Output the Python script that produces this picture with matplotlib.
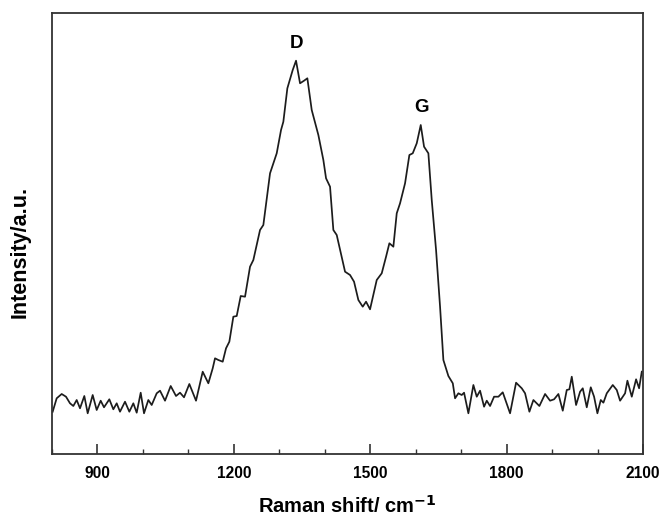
import matplotlib
matplotlib.use("Agg")
import matplotlib.pyplot as plt
from matplotlib.ticker import MultipleLocator, FixedLocator

plt.rcParams['font.family'] = ['Liberation Sans', 'DejaVu Sans']

# Raman shift (cm^-1) and intensity (a.u.)
shift = [801.5, 810.3, 821.3, 830.8, 839.6, 846.9, 854.3, 861.6, 871.1, 878.5,
         889.5, 898.3, 907.1, 914.4, 926.1, 934.9, 942.3, 949.6, 960.6, 970.1,
         978.9, 986.3, 995.1, 1002.4, 1011.9, 1019.3, 1030.3, 1037.6, 1048.6, 1061.1,
         1072.8, 1081.6, 1090.4, 1102.1, 1116.8, 1131.5, 1143.9, 1153.5, 1158.6, 1165.9,
         1175.5, 1182.8, 1190.1, 1198.9, 1206.3, 1215.1, 1224.6, 1235.6, 1242.9, 1257.6,
         1264.9, 1279.6, 1294.3, 1303.8, 1308.9, 1317.7, 1329.5, 1336.8, 1345.6, 1354.4,
         1361.7, 1371.3, 1385.9, 1396.9, 1402.8, 1411.6, 1418.9, 1426.3, 1444.6, 1455.6,
         1464.4, 1473.9, 1483.5, 1490.8, 1499.6, 1514.3, 1525.3, 1534.8, 1542.1, 1550.9,
         1558.3, 1565.6, 1576.6, 1586.1, 1593.5, 1602.3, 1611.1, 1618.4, 1627.9, 1635.3,
         1644.8, 1653.6, 1660.9, 1671.9, 1681.6, 1686.6, 1693.9, 1701.3, 1706.4, 1715.9,
         1726.9, 1734.3, 1741.6, 1750.4, 1756.3, 1763.6, 1772.4, 1781.9, 1791.5, 1798.8,
         1807.6, 1820.8, 1833.3, 1840.6, 1850.1, 1858.9, 1872.1, 1884.6, 1895.6, 1904.4,
         1913.9, 1923.5, 1932.3, 1938.1, 1943.3, 1952.8, 1961.6, 1967.5, 1976.3, 1985.1,
         1992.4, 1999.7, 2007.1, 2012.9, 2020.3, 2033.5, 2042.3, 2049.6, 2060.6, 2065.7,
         2075.3, 2084.8, 2091.4, 2097.3]
intensity = [42.3, 55.7, 60.0, 57.3, 50.7, 48.0, 54.0, 45.7, 58.0, 40.7,
             59.0, 44.0, 53.3, 46.7, 54.7, 44.7, 50.7, 42.3, 52.3, 42.3,
             50.7, 41.3, 61.3, 40.7, 54.0, 49.0, 60.7, 63.3, 53.3, 68.0,
             58.0, 61.3, 56.7, 70.0, 53.3, 82.3, 70.7, 85.7, 95.7, 94.0,
             92.3, 105.7, 112.3, 137.3, 138.0, 158.0, 157.3, 187.3, 194.0, 224.0,
             229.0, 280.7, 300.7, 324.0, 332.3, 365.7, 384.0, 393.3, 370.7, 373.3,
             375.7, 344.0, 319.0, 294.0, 275.7, 267.3, 224.0, 219.0, 182.3, 179.0,
             172.3, 154.0, 147.3, 152.3, 144.7, 174.0, 180.7, 197.3, 210.7, 207.3,
             240.7, 250.7, 270.7, 299.0, 300.7, 310.7, 329.0, 307.3, 300.7, 254.0,
             204.0, 147.3, 94.0, 78.0, 70.7, 55.7, 60.7, 59.0, 61.3, 40.7,
             69.0, 57.3, 63.3, 47.3, 53.3, 48.0, 57.3, 57.3, 61.7, 52.3,
             40.7, 71.3, 65.7, 60.7, 42.3, 54.0, 48.0, 60.0, 53.3, 54.7,
             60.0, 43.3, 64.0, 64.7, 77.3, 49.0, 62.3, 65.7, 46.7, 66.7,
             57.3, 40.7, 54.0, 51.3, 60.7, 69.0, 64.0, 53.3, 60.7, 73.3,
             57.3, 74.7, 65.7, 82.3]

peak_labels = ['D', 'G']
peak_pos = [1337, 1612]
peak_label_y = [410, 346]

major_ticks = [900, 1200, 1500, 1800, 2100]

fig = plt.figure(figsize=(6.63, 5.16), dpi=100)
ax = fig.add_axes([52/663, 62/516, 591/663, 441/516])
ax.plot(shift, intensity, color='#1c1c1c', lw=1.25, solid_joinstyle='round')
ax.set_xlim(800, 2100)
ax.set_ylim(0, 441)

ax.xaxis.set_major_locator(FixedLocator(major_ticks))
ax.xaxis.set_minor_locator(MultipleLocator(100))
ax.tick_params(axis='x', which='major', direction='in', length=7.2, width=1.2,
               color='#333333', pad=9, labelsize=11.2)
ax.tick_params(axis='x', which='minor', direction='in', length=3.6, width=1.0,
               color='#333333')
ax.set_yticks([])
for lab in ax.get_xticklabels():
    lab.set_fontweight('bold')
for sp in ax.spines.values():
    sp.set_color('#333333')
    sp.set_linewidth(1.3)

ax.set_xlabel('Raman shift/ cm$^{\\mathbf{-1}}$', fontsize=14.5, fontweight='bold', labelpad=10)
fig.text(20/663, 1 - 252/516, 'Intensity/a.u.', rotation=90, fontsize=15.5,
         fontweight='bold', ha='center', va='center')

for lab, x, y in zip(peak_labels, peak_pos, peak_label_y):
    ax.text(x, y, lab, fontsize=13.5, fontweight='bold', ha='center', va='center')

fig.savefig('out.png', dpi=100)
